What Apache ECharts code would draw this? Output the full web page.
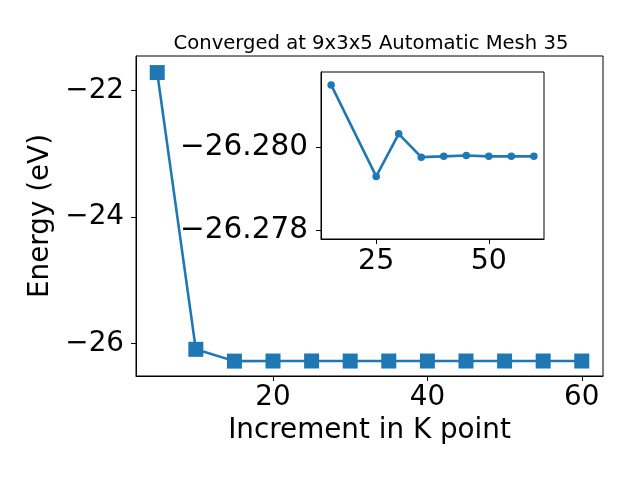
<!DOCTYPE html>
<html>
<head>
<meta charset="utf-8">
<script src="https://cdn.jsdelivr.net/npm/echarts@6/dist/echarts.min.js"></script>
<style>html,body{margin:0;padding:0;background:#fff}#c{width:640px;height:480px}</style>
</head>
<body>
<div id="c"></div>
<script>
const titleText = "Converged at 9x3x5 Automatic Mesh 35";
const xLabel = "Increment in K point";
const yLabel = "Energy (eV)";
const kPoints = [5, 10, 15, 20, 25, 30, 35, 40, 45, 50, 55, 60];
const energies = [-21.715, -26.095, -26.2815, -26.2800, -26.2793, -26.2803, -26.2798, -26.2798, -26.2798, -26.2798, -26.2798, -26.2798];
const insetK = [15, 25, 30, 35, 40, 45, 50, 55, 60];
const insetE = [-26.28149, -26.27930, -26.28032, -26.27976, -26.27978, -26.27980, -26.27978, -26.27978, -26.27978];
const mainXTicks = [20, 40, 60];
const mainYTicks = [-26, -24, -22];
const insetXTicks = [25, 50];
const insetYTicks = [-26.280, -26.278];

const FONT = "DejaVu Sans";
const BLUE = "#1f77b4";
const minus = s => String(s).replace('-', '\u2212');

const chart = echarts.init(document.getElementById('c'), null, {renderer: 'canvas'});
const axisCommon = {
  axisLine: {show: true, onZero: false, lineStyle: {color: '#000', width: 1}},
  axisTick: {show: true, inside: false, length: 5, lineStyle: {color: '#000', width: 1}},
  splitLine: {show: false}
};
chart.setOption({
  animation: false,
  backgroundColor: '#fff',
  title: {
    text: titleText, left: 366, top: 29, textAlign: 'center',
    textStyle: {fontFamily: FONT, fontSize: 19.6, fontWeight: 'normal', color: '#000'}
  },
  grid: [
    {left: 136, right: 37, top: 56, bottom: 104, show: true, borderColor: '#000', borderWidth: 1, backgroundColor: '#fff', containLabel: false},
    {left: 321, right: 96, top: 72, bottom: 241, show: true, borderColor: '#000', borderWidth: 1, backgroundColor: '#fff', containLabel: false, z: 5}
  ],
  xAxis: [
    Object.assign({}, axisCommon, {
      gridIndex: 0, type: 'value', min: 2.25, max: 62.75,
      name: xLabel, nameLocation: 'middle', nameGap: 38,
      nameTextStyle: {fontFamily: FONT, fontSize: 27.8, color: '#000'},
      axisTick: Object.assign({}, axisCommon.axisTick, {customValues: mainXTicks}),
      axisLabel: {customValues: mainXTicks, margin: 8, fontFamily: FONT, fontSize: 27.8, color: '#000', formatter: v => minus(v)}
    }),
    Object.assign({}, axisCommon, {
      gridIndex: 1, type: 'value', min: 12.75, max: 62.25, z: 6,
      axisTick: Object.assign({}, axisCommon.axisTick, {customValues: insetXTicks}),
      axisLabel: {customValues: insetXTicks, margin: 8, fontFamily: FONT, fontSize: 28.5, color: '#000', formatter: v => minus(v)}
    })
  ],
  yAxis: [
    Object.assign({}, axisCommon, {
      gridIndex: 0, type: 'value', min: -26.517, max: -21.453,
      name: yLabel, nameLocation: 'middle', nameGap: 76, nameRotate: 90,
      nameTextStyle: {fontFamily: FONT, fontSize: 27.8, color: '#000'},
      axisTick: Object.assign({}, axisCommon.axisTick, {customValues: mainYTicks}),
      axisLabel: {customValues: mainYTicks, margin: 12, fontFamily: FONT, fontSize: 27.8, color: '#000', formatter: v => minus(Math.round(v))}
    }),
    Object.assign({}, axisCommon, {
      gridIndex: 1, type: 'value', min: -26.2818, max: -26.2778, inverse: true, z: 6,
      axisTick: Object.assign({}, axisCommon.axisTick, {customValues: insetYTicks}),
      axisLabel: {customValues: insetYTicks, margin: 13, fontFamily: FONT, fontSize: 29.5, color: '#000', formatter: v => minus(v.toFixed(3))}
    })
  ],
  series: [
    {
      type: 'line', xAxisIndex: 0, yAxisIndex: 0,
      data: kPoints.map((k, i) => [k, energies[i]]),
      symbol: 'rect', symbolSize: 15, showAllSymbol: true,
      lineStyle: {color: BLUE, width: 2.6}, itemStyle: {color: BLUE, borderWidth: 0},
      z: 2
    },
    {
      type: 'line', xAxisIndex: 1, yAxisIndex: 1,
      data: insetK.map((k, i) => [k, insetE[i]]),
      symbol: 'circle', symbolSize: 7.5, showAllSymbol: true,
      lineStyle: {color: BLUE, width: 2.6}, itemStyle: {color: BLUE, borderWidth: 0},
      z: 7
    }
  ]
});
</script>
</body>
</html>
